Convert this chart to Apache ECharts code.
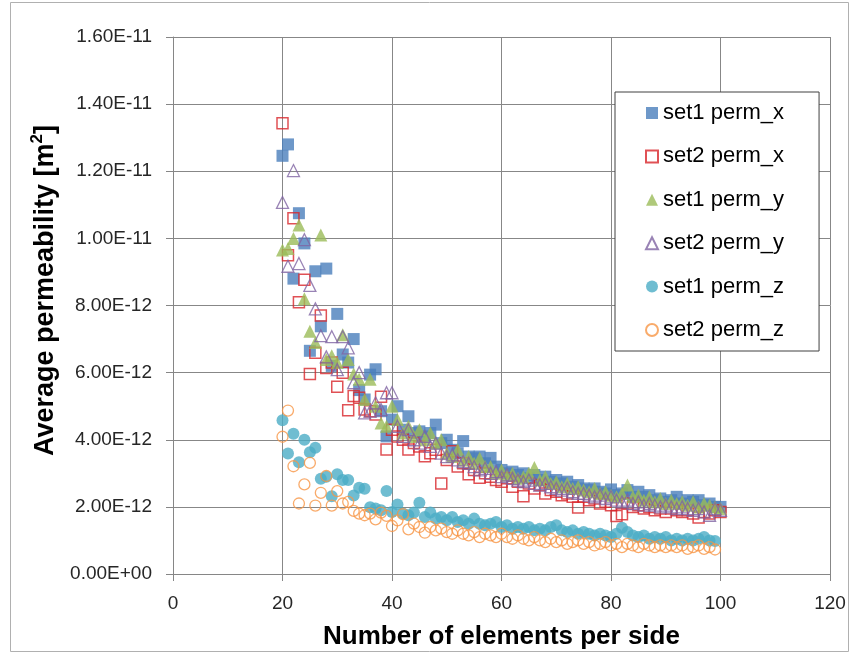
<!DOCTYPE html>
<html>
<head>
<meta charset="utf-8">
<script src="https://cdn.jsdelivr.net/npm/echarts@6/dist/echarts.min.js"></script>
<style>
html,body{margin:0;padding:0;background:#fff;}
#chart{width:862px;height:655px;}
</style>
</head>
<body>
<div id="chart"></div>
<script>
// x values: number of elements per side
const elements = [20,21,22,23,24,25,26,27,28,29,30,31,32,33,34,35,36,37,38,39,40,41,42,43,44,45,46,47,48,49,50,51,52,53,54,55,56,57,58,59,60,61,62,63,64,65,66,67,68,69,70,71,72,73,74,75,76,77,78,79,80,81,82,83,84,85,86,87,88,89,90,91,92,93,94,95,96,97,98,99,100];

// values in units of 1e-12 m^2
const set1PermX = [12.46,12.8,8.8,10.75,9.85,6.65,9.02,7.38,9.1,6.2,7.75,6.54,6.3,7.0,5.48,5.2,5.94,6.1,4.85,4.1,4.6,5.0,4.3,4.7,4.2,4.25,4.1,4.2,4.45,3.9,4.0,3.7,3.6,3.96,3.5,3.45,3.5,3.3,3.46,3.2,3.1,3.0,3.05,2.95,3.0,2.85,2.95,2.8,2.9,2.75,2.8,2.7,2.75,2.6,2.65,2.55,2.5,2.55,2.45,2.4,2.52,2.35,2.4,2.5,2.3,2.45,2.3,2.35,2.2,2.25,2.15,2.2,2.3,2.1,2.2,2.15,2.2,2.05,2.1,2.0,2.0];
const set2PermX = [13.43,9.5,10.6,8.1,8.77,5.96,6.59,7.7,6.14,6.3,5.58,6.0,4.88,5.3,5.25,4.9,4.85,4.75,5.28,3.71,4.3,4.1,4.0,3.71,3.9,3.8,3.51,3.6,3.7,2.7,3.4,3.66,3.2,3.3,2.97,3.1,2.87,3.0,2.9,2.8,2.75,2.85,2.6,2.75,2.32,2.7,2.55,2.65,2.4,2.5,2.45,2.35,2.4,2.3,1.98,2.3,2.2,2.25,2.1,2.15,2.05,1.73,1.78,2.1,2.0,2.05,1.95,2.0,1.9,1.95,1.85,1.95,1.9,1.85,1.9,1.8,1.68,1.85,1.8,1.9,1.85];
const set1PermY = [9.65,9.7,10.0,10.4,8.2,7.23,6.9,10.1,6.39,6.5,6.3,7.13,6.39,5.96,5.8,5.2,5.8,5.0,4.5,4.4,5.0,4.6,4.2,4.4,4.1,4.3,4.0,4.2,3.9,4.0,3.6,3.5,3.7,3.4,3.5,3.3,3.45,3.2,3.2,3.0,3.1,2.95,3.0,2.85,2.9,3.0,3.17,2.8,2.9,2.7,2.75,2.6,2.7,2.55,2.6,2.5,2.45,2.55,2.4,2.45,2.35,2.3,2.4,2.65,2.3,2.35,2.2,2.3,2.15,2.25,2.1,2.2,2.1,2.15,2.05,2.15,2.0,2.1,2.05,2.0,1.95];
const set2PermY = [11.07,9.17,12.02,9.25,9.96,8.6,7.9,7.1,6.47,7.07,6.09,7.07,6.74,5.7,6.0,4.8,4.85,5.1,4.9,5.4,5.4,4.4,4.1,4.3,4.0,3.9,4.1,3.8,3.9,3.6,3.5,3.55,3.4,3.35,3.3,3.2,3.1,3.15,3.0,3.05,2.9,2.95,2.85,2.8,2.75,2.8,2.7,2.65,2.7,2.6,2.55,2.5,2.55,2.45,2.4,2.4,2.35,2.3,2.35,2.25,2.3,2.2,2.15,2.2,2.1,2.15,2.05,2.1,2.05,2.0,2.05,2.0,1.95,2.0,1.95,1.9,1.95,1.85,1.75,1.95,1.9];
const set1PermZ = [4.58,3.59,4.18,3.33,4.0,3.63,3.76,2.84,2.9,2.32,2.97,2.8,2.8,2.34,2.57,2.54,1.99,1.95,1.9,2.47,1.85,2.07,1.8,1.75,1.83,2.12,1.7,1.83,1.65,1.7,1.6,1.7,1.55,1.6,1.5,1.65,1.5,1.45,1.5,1.55,1.4,1.45,1.35,1.4,1.35,1.4,1.3,1.35,1.3,1.4,1.45,1.3,1.25,1.3,1.2,1.25,1.2,1.15,1.2,1.15,1.1,1.2,1.38,1.25,1.15,1.1,1.15,1.05,1.1,1.05,1.1,1.0,1.05,1.0,1.05,1.0,1.05,1.1,1.0,0.98];
const set2PermZ = [4.09,4.87,3.21,2.1,2.67,3.31,2.04,2.42,2.92,2.04,2.47,2.1,2.15,1.88,1.8,1.75,1.8,1.63,1.83,1.73,1.43,1.6,1.78,1.33,1.5,1.4,1.23,1.4,1.3,1.35,1.25,1.2,1.3,1.2,1.15,1.25,1.1,1.2,1.15,1.1,1.2,1.1,1.05,1.15,1.05,1.0,1.1,1.0,0.95,1.05,0.95,1.0,0.9,0.95,1.0,0.9,0.95,0.85,0.9,0.95,0.85,0.9,0.8,0.9,0.85,0.8,0.9,0.85,0.8,0.85,0.8,0.85,0.8,0.85,0.75,0.8,0.85,0.75,0.8,0.73];

const seriesNames = ['set1 perm_x','set2 perm_x','set1 perm_y','set2 perm_y','set1 perm_z','set2 perm_z'];
const xTicks = [0,20,40,60,80,100,120];
const yTickLabels = ['0.00E+00','2.00E-12','4.00E-12','6.00E-12','8.00E-12','1.00E-11','1.20E-11','1.40E-11','1.60E-11'];

function pairs(vals){ return vals.map((v,i)=>[elements[i], v]); }

const FONT = '"Liberation Sans", Arial, sans-serif';
const chart = echarts.init(document.getElementById('chart'), null, {renderer:'canvas'});

const styles = [
  {symbol:'rect', size:12, itemStyle:{color:'#4A7EBB'}},
  {symbol:'rect', size:11, itemStyle:{color:'rgba(255,255,255,0)', borderColor:'#D8262B', borderWidth:1.5}},
  {symbol:'triangle', size:13, itemStyle:{color:'#9BBB59'}},
  {symbol:'triangle', size:12, itemStyle:{color:'rgba(255,255,255,0)', borderColor:'#8064A2', borderWidth:1.3}},
  {symbol:'circle', size:12, itemStyle:{color:'#4BACC6'}},
  {symbol:'circle', size:11, itemStyle:{color:'rgba(255,255,255,0)', borderColor:'#F79646', borderWidth:1.3}}
];
const allData = [set1PermX,set2PermX,set1PermY,set2PermY,set1PermZ,set2PermZ];

chart.setOption({
  backgroundColor:'#fff',
  animation:false,
  grid:{left:173, top:37, width:657, height:538, containLabel:false},
  xAxis:{
    type:'value', min:0, max:120, interval:20,
    name:'Number of elements per side', nameLocation:'middle', nameGap:50,
    nameTextStyle:{fontFamily:FONT, fontWeight:'bold', fontSize:26, color:'#000'},
    axisLine:{show:true, lineStyle:{color:'#868686', width:1}},
    axisTick:{show:true, inside:false, length:7, lineStyle:{color:'#868686'}},
    axisLabel:{fontFamily:FONT, fontSize:19, color:'#262626', margin:20},
    splitLine:{show:true, lineStyle:{color:'#878787', width:1}}
  },
  yAxis:{
    type:'value', min:0, max:16, interval:2,
    name:'{a|Average permeability [m}{s|2}{a|]}', nameLocation:'middle', nameGap:111, nameRotate:90,
    nameTextStyle:{fontFamily:FONT, fontWeight:'bold', fontSize:27, color:'#000', padding:[0,0,0,30],
      rich:{
        a:{fontFamily:FONT, fontWeight:'bold', fontSize:27, color:'#000', lineHeight:32, verticalAlign:'bottom'},
        s:{fontFamily:FONT, fontWeight:'bold', fontSize:17, color:'#000', lineHeight:32, verticalAlign:'top', padding:[2,0,0,0]}
      }},
    axisLine:{show:true, lineStyle:{color:'#868686', width:1}},
    axisTick:{show:true, inside:false, length:7, lineStyle:{color:'#868686'}},
    axisLabel:{fontFamily:FONT, fontSize:19, color:'#262626', margin:21,
      formatter:function(v){ return yTickLabels[Math.round(v/2)]; }},
    splitLine:{show:true, lineStyle:{color:'#878787', width:1}}
  },
  legend:{
    orient:'vertical', left:615, top:92,
    backgroundColor:'#fff', borderColor:'#404040', borderWidth:1,
    padding:[10,35,10,30], itemGap:21.4, itemWidth:12, itemHeight:12,
    textStyle:{fontFamily:FONT, fontSize:22, color:'#000'},
    data:seriesNames
  },
  graphic:[{type:'rect', shape:{x:10.5, y:2.5, width:838, height:649}, style:{fill:'none', stroke:'#b0b0b0', lineWidth:1}, silent:true, z:-1}],
  series: allData.map((d,i)=>({
    name:seriesNames[i], type:'scatter', data:pairs(d),
    symbol:styles[i].symbol, symbolSize:styles[i].size,
    itemStyle:styles[i].itemStyle, z:2+i
  }))
});
</script>
</body>
</html>
